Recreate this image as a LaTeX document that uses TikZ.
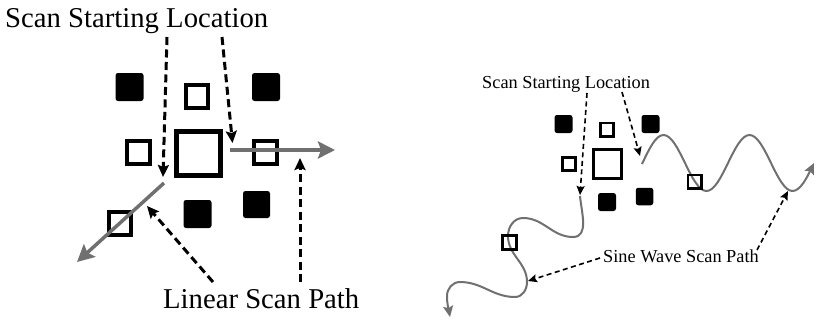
\documentclass[tikz,border=0pt]{standalone}
\usepackage{fontspec}
\setmainfont{Liberation Serif}
\usetikzlibrary{arrows.meta}
\definecolor{pathgray}{RGB}{112,112,112}

\begin{document}
\begin{tikzpicture}[x=1pt,y=-1pt,
  % filled cells
  blk/.style={fill=black, rounded corners=2.5pt, inner sep=0pt, minimum size=#1},
  % outlined cells, left grid
  holL/.style={draw=black, line width=4pt, inner sep=0pt, minimum size=#1},
  % outlined cells, right grid
  holR/.style={draw=black, line width=2.8pt, inner sep=0pt, minimum size=#1},
  bigtxt/.style={inner sep=0pt, font=\fontsize{28.7}{30}\selectfont},
  smalltxt/.style={inner sep=0pt, font=\fontsize{18.3}{20}\selectfont},
  scanL/.style={draw=pathgray, line width=3.5pt, -{Stealth[length=17pt,width=17pt,inset=3pt]}},
  scanR/.style={draw=pathgray, line width=2pt, -{Stealth[length=11pt,width=10pt,inset=2pt]}},
  pointL/.style={draw=black, line width=3pt, dash pattern=on 8pt off 4.5pt,
                 -{Stealth[length=12pt,width=11pt,inset=2pt]}},
  pointR/.style={draw=black, line width=1.6pt, dash pattern=on 5pt off 3.5pt,
                 -{Stealth[length=9pt,width=8pt,inset=1.5pt]}}]

\useasboundingbox[fill=white] (0,0) rectangle (818,324);

% ---------------- left: linear scan ----------------
\node[blk=28]    (lb1) at (129.5,87) {};
\node[blk=28]    (lb2) at (266,87) {};
\node[blk=28]    (lb3) at (197.5,214) {};
\node[blk=27]    (lb4) at (256.5,204.5) {};
\node[holL=22.5] (lh1) at (197,96.5) {};
\node[holL=23]   (lh2) at (138.5,152.5) {};
\node[holL=23]   (lh3) at (265.5,152.5) {};
\node[holL=22.5] (lh4) at (120,223.5) {};
\node[draw=black, line width=5pt, inner sep=0pt, minimum size=44pt] (lstart) at (198.5,153) {};

\coordinate (lh0) at (230,150);
\coordinate (lh9) at (335,150);
\coordinate (ld0) at (164,183);
\coordinate (ld9) at (77,262);
\draw[scanL] (lh0) -- (lh9);
\draw[scanL] (ld0) -- (ld9);

\node[bigtxt, anchor=base west] (ltop) at (5,27) {Scan Starting Location};
\node[bigtxt, anchor=base west] (lbot) at (163,308) {Linear Scan Path};

\coordinate (la1) at (167,37);  \coordinate (la1t) at (163,177);
\coordinate (la2) at (222,37);  \coordinate (la2t) at (232.5,143);
\coordinate (lb1s) at (213,282); \coordinate (lb1t) at (147,206);
\coordinate (lb2s) at (300,282); \coordinate (lb2t) at (300,158);
\draw[pointL] (la1) -- (la1t);
\draw[pointL] (la2) -- (la2t);
\draw[pointL] (lb1s) -- (lb1t);
\draw[pointL] (lb2s) -- (lb2t);

% ---------------- right: sine wave scan ----------------
\node[blk=18]    (rb1) at (563.5,124) {};
\node[blk=18]    (rb2) at (650.5,124) {};
\node[blk=18]    (rb3) at (607,202) {};
\node[blk=17.5]  (rb4) at (644.5,196.5) {};
\node[holR=13.2] (rh1) at (607,129.5) {};
\node[holR=13.2] (rh2) at (569,164) {};
\node[draw=black, line width=3pt, inner sep=0pt, minimum size=28.5pt] (rstart) at (607.5,164) {};

% wave heading right
\draw[scanR] (642,164) sin (663.5,135) cos (685,163) sin (706.5,191)
  cos (728,163) sin (749.5,135) cos (771,163) sin (792.5,191) cos (814,163);
% wave heading down-left (out/in angles are page angles: -90 points down)
\draw[scanR] (580,196) to[out=-85,in=0] (573,237) to[out=180,in=0] (523,218)
  to[out=180,in=90] (508,236) to[out=-90,in=90] (527,282)
  to[out=-90,in=0] (515,297) to[out=180,in=0] (460,282)
  to[out=180,in=90] (447,296) to[out=-90,in=100] (450,317);

\node[holR=13.2] (rh3) at (694.5,181.5) {};
\node[holR=13.5] (rh4) at (509.5,242.5) {};

\node[smalltxt, anchor=base west] (rtop) at (482,88) {Scan Starting Location};
\node[smalltxt, anchor=base west] (rbot) at (603,262) {Sine Wave Scan Path};

\coordinate (ra1) at (587,93);  \coordinate (ra1t) at (580,195);
\coordinate (ra2) at (622,92);  \coordinate (ra2t) at (640,156);
\coordinate (rb1s) at (600,258); \coordinate (rb1t) at (528,281);
\coordinate (rb2s) at (757,250); \coordinate (rb2t) at (788,191);
\draw[pointR] (ra1) -- (ra1t);
\draw[pointR] (ra2) -- (ra2t);
\draw[pointR] (rb1s) -- (rb1t);
\draw[pointR] (rb2s) -- (rb2t);

\end{tikzpicture}
\end{document}
